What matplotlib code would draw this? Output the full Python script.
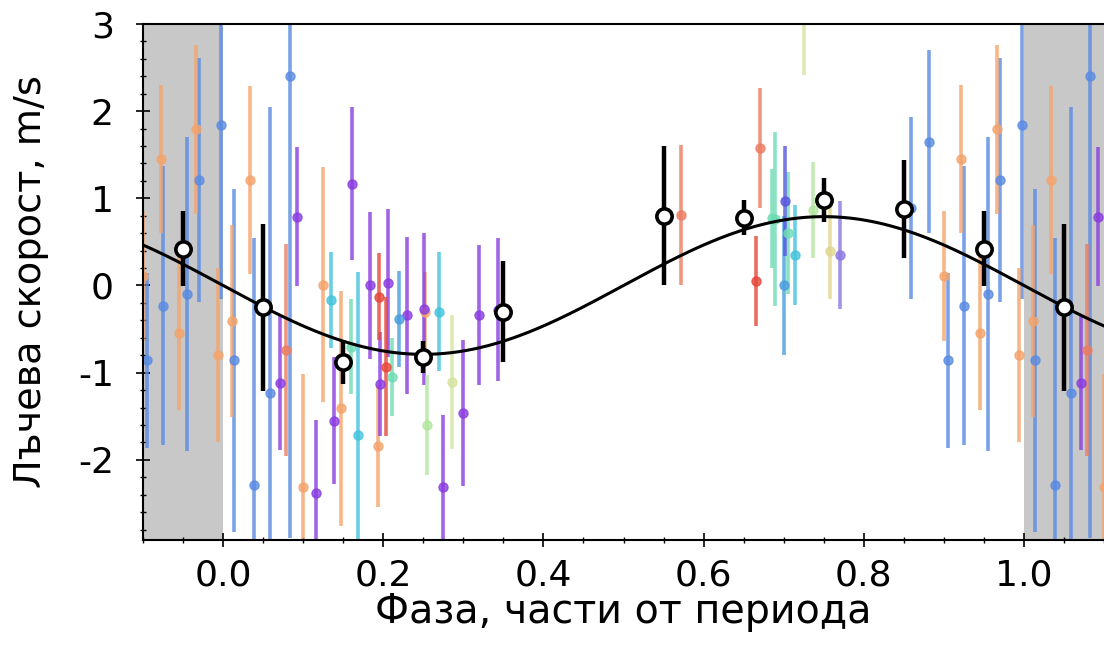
import numpy as np
import matplotlib
matplotlib.use("Agg")
import matplotlib.pyplot as plt
from matplotlib.ticker import MultipleLocator

plt.rcParams['font.family'] = ['DejaVu Sans']
plt.rcParams['axes.unicode_minus'] = False

# individual RV measurements: phase, velocity (m/s), error, instrument
phase = [0.014, 0.039, 0.059, 0.083, 0.859, 0.881, 0.905, 0.925, 0.955, 0.970, 0.998,
         0.011, 0.034, 0.100, 0.125, 0.147, 0.193, 0.252, 0.900, 0.922, 0.945, 0.966, 0.994,
         0.071, 0.092, 0.116, 0.138, 0.161, 0.183, 0.196, 0.206, 0.230, 0.251, 0.275, 0.299, 0.320, 0.343,
         0.195, 0.204, 0.665,
         0.079, 0.572, 0.671,
         0.135, 0.169, 0.269, 0.714,
         0.160, 0.211, 0.685, 0.689, 0.705,
         0.220, 0.700,
         0.702,
         0.255, 0.737,
         0.286, 0.725,
         0.758,
         0.770]
rv = [-0.86, -2.29, -1.23, 2.40, 0.89, 1.65, -0.86, -0.23, -0.10, 1.21, 1.84,
      -0.41, 1.21, -2.31, 0.01, -1.41, -1.84, -0.30, 0.11, 1.45, -0.55, 1.79, -0.80,
      -1.12, 0.79, -2.38, -1.55, 1.17, 0.00, -1.13, 0.03, -0.34, -0.27, -2.31, -1.46, -0.34, -0.28,
      -0.13, -0.93, 0.05,
      -0.74, 0.81, 1.58,
      -0.17, -1.71, -0.30, 0.35,
      -0.70, -1.05, 0.77, 0.76, 0.60,
      -0.38, 0.00,
      0.97,
      -1.60, 0.87,
      -1.11, 3.35,
      0.40,
      0.35]
err = [1.97, 2.83, 3.28, 5.30, 1.04, 1.05, 1.00, 1.60, 1.80, 1.40, 2.00,
       1.10, 1.08, 1.30, 1.35, 1.35, 0.70, 0.45, 0.75, 0.85, 0.88, 0.97, 1.00,
       0.77, 0.80, 0.84, 0.73, 0.88, 0.84, 0.60, 0.85, 0.90, 0.87, 0.82, 0.84, 0.80, 0.82,
       0.50, 0.80, 0.52,
       1.22, 0.80, 0.69,
       0.55, 1.87, 0.68, 0.57,
       0.55, 0.45, 0.57, 1.00, 0.70,
       0.55, 0.80,
       0.63,
       0.57, 0.55,
       0.77, 0.93,
       0.55,
       0.62]
inst = (['blue'] * 11 + ['orange'] * 12 + ['purple'] * 14 + ['red'] * 3 + ['salmon'] * 3
        + ['cyan'] * 4 + ['mint'] * 5 + ['steel'] * 2 + ['indigo'] + ['palegreen'] * 2
        + ['yellowgreen'] * 2 + ['khaki'] + ['violet'])

inst_colors = {'blue': '#5a8be2', 'orange': '#f4a46c', 'purple': '#8a3de0',
               'red': '#e5483a', 'salmon': '#ec7c62', 'cyan': '#44c4dc',
               'mint': '#6fdcb4', 'steel': '#4a9ede', 'indigo': '#5656de',
               'palegreen': '#b2e6a0', 'yellowgreen': '#d6e4a0', 'khaki': '#e0d690',
               'violet': '#8c78e2'}

# binned points
bin_phase = [0.05, 0.15, 0.25, 0.35, 0.55, 0.65, 0.75, 0.85, 0.95]
bin_rv = [-0.25, -0.88, -0.82, -0.30, 0.80, 0.78, 0.98, 0.88, 0.42]
bin_err = [0.96, 0.25, 0.18, 0.58, 0.80, 0.20, 0.25, 0.56, 0.43]

# keplerian (circular) fit
K = 0.79
phi0 = 0.0

fig = plt.figure(figsize=(11.04, 6.5), dpi=100)
ax = fig.add_axes([143/1104, 110/650, 961/1104, 516/650])

ax.axvspan(-0.1, 0.0, color='#c8c8c8', zorder=0, lw=0)
ax.axvspan(1.0, 1.1, color='#c8c8c8', zorder=0, lw=0)

ph = np.array(phase)
for shift in (-1, 0, 1):
    for i in range(len(ph)):
        ax.errorbar(ph[i] + shift, rv[i], yerr=err[i], fmt='o', ms=6.5,
                    color=inst_colors[inst[i]], elinewidth=2.6, capsize=0,
                    alpha=0.8, zorder=2)

xx = np.linspace(-0.1, 1.1, 400)
ax.plot(xx, -K*np.sin(2*np.pi*(xx - phi0)), color='black', lw=2.2, zorder=3)

bp = np.array(bin_phase)
for shift in (-1, 0, 1):
    ax.errorbar(bp + shift, bin_rv, yerr=bin_err, fmt='o', ms=11,
                mfc='white', mec='black', mew=2.6, color='black',
                elinewidth=3.2, capsize=0, zorder=4)

ax.set_xlim(-0.1, 1.1)
ax.set_ylim(-2.92, 3.0)
ax.xaxis.set_major_locator(MultipleLocator(0.2))
ax.xaxis.set_minor_locator(MultipleLocator(0.05))
ax.yaxis.set_major_locator(MultipleLocator(1))
ax.yaxis.set_minor_locator(MultipleLocator(0.2))
ax.tick_params(which='major', direction='inout', length=10, width=1.2,
               labelsize=26)
ax.tick_params(axis='x', which='major', pad=8)
ax.tick_params(axis='y', which='major', pad=16)
ax.tick_params(which='minor', direction='inout', length=5, width=1.0)
ax.spines['right'].set_visible(False)
for s in ('top', 'left', 'bottom'):
    ax.spines[s].set_linewidth(1.5)

ax.set_xlabel('Фаза, части от периода', fontsize=28.5, labelpad=0)
ax.set_ylabel('Лъчева скорост, m/s', fontsize=27.5, labelpad=21)

fig.savefig('out.png', dpi=100)
